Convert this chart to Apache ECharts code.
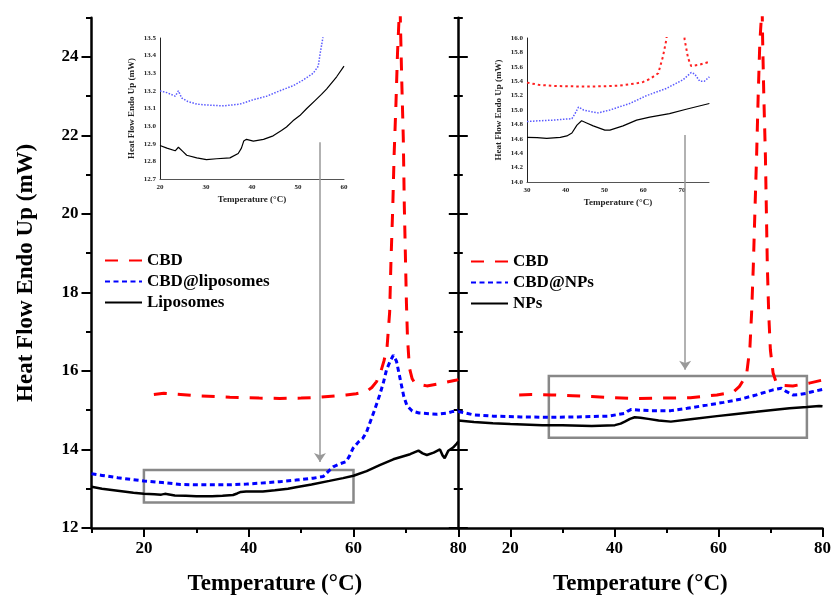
<!DOCTYPE html>
<html>
<head>
<meta charset="utf-8">
<script src="https://cdn.jsdelivr.net/npm/echarts@6/dist/echarts.min.js"></script>
<style>
  html, body { margin: 0; padding: 0; background: #fff; }
  #main { width: 834px; height: 601px; }
</style>
</head>
<body>
<div id="main"></div>
<script>
// tick labels
var xMajor = [20, 40, 60, 80];
var xMinor = [10, 30, 50, 70];
var yMajor = [12, 14, 16, 18, 20, 22, 24];
var yMinor = [13, 15, 17, 19, 21, 23, 25];
var insetRightX = [30, 40, 50, 60, 70];

// left panel (liposomes), [temperature, heat flow]
var cbdLeft = [[21.9,15.40],[23.8,15.43],[27,15.40],[30,15.37],[36.4,15.33],[42,15.31],[45.9,15.30],[50,15.31],[53.5,15.33],[58.6,15.39],[60.5,15.42],[62.4,15.47],[63.5,15.58],[64.4,15.73],[65.2,15.98],[65.8,16.25],[66.4,16.6],[66.9,17.5],[67.15,18.8],[67.5,20.2],[67.75,21.5],[68.1,22.8],[68.4,24.1],[68.7,25.0],[68.8,25.8],[69.0,24.6],[69.2,23.44],[69.5,21.95],[69.7,20.19],[69.9,18.97],[70.1,17.74],[70.3,16.86],[70.67,16.08],[71.2,15.8],[71.75,15.68],[74,15.62],[76.5,15.68],[79.7,15.77],[80,15.78]];
var cbdLipo = [[10,13.38],[12,13.34],[15,13.28],[20,13.2],[23.5,13.16],[27,13.11],[30,13.1],[33.2,13.1],[36,13.1],[39.6,13.12],[42,13.14],[45.9,13.18],[49,13.22],[52.3,13.27],[54.2,13.31],[55.1,13.43],[56.1,13.56],[57.5,13.64],[58.6,13.69],[59.3,13.85],[59.9,14.03],[61,14.2],[61.8,14.29],[62.5,14.45],[63.1,14.67],[64,15.0],[65,15.39],[65.7,15.7],[66.3,16.03],[67,16.25],[67.6,16.4],[68.2,16.25],[68.9,15.8],[69.6,15.35],[70.2,15.12],[71.2,14.98],[72.5,14.93],[74.7,14.91],[76,14.9],[78,14.93],[79,14.97],[80,15.0]];
var liposomes = [[10,13.05],[12,13.0],[15,12.95],[18,12.9],[20,12.87],[22,12.86],[23.3,12.85],[24,12.87],[25.9,12.83],[28,12.82],[30,12.81],[33,12.81],[35,12.82],[37,12.84],[37.8,12.88],[38.5,12.92],[39.5,12.93],[42.7,12.93],[45,12.96],[47.5,13.0],[49,13.04],[52,13.11],[55.4,13.2],[58,13.27],[60,13.33],[62.5,13.45],[65,13.6],[67.6,13.75],[70.8,13.88],[72.4,13.97],[73.2,13.9],[74,13.86],[75.3,13.92],[76.5,14.0],[77,13.85],[77.4,13.78],[78.1,13.97],[79,14.05],[79.7,14.15],[80,14.2]];

// right panel (NPs)
var cbdRight = [[21.7,15.39],[24,15.4],[28,15.39],[32,15.37],[35.6,15.35],[40,15.32],[44.5,15.3],[50,15.31],[54.6,15.32],[59.7,15.39],[61.5,15.43],[62.9,15.47],[64,15.6],[64.8,15.77],[65.4,15.9],[66.05,16.6],[66.37,17.47],[66.7,18.66],[67.0,20.02],[67.33,21.46],[67.65,23.07],[67.95,24.35],[68.2,24.9],[68.37,25.5],[68.5,24.4],[68.71,23.07],[69.03,21.46],[69.22,20.02],[69.4,18.66],[69.66,17.47],[69.98,16.54],[70.5,15.95],[71.0,15.75],[71.75,15.64],[74.3,15.62],[77.45,15.69],[80,15.77]];
var cbdNPs = [[10,14.97],[10.3,14.92],[13,14.88],[16.65,14.85],[22,14.83],[27.4,14.82],[33,14.83],[38.8,14.85],[42,14.92],[42.6,14.98],[43.25,15.02],[45,15.0],[47.05,14.99],[50.85,14.99],[54,15.05],[57.8,15.13],[61,15.2],[64.15,15.28],[67,15.38],[70.5,15.52],[72.1,15.56],[73,15.48],[74.3,15.39],[75.5,15.4],[76.8,15.43],[78,15.47],[80,15.53]];
var nps = [[10,14.74],[13,14.7],[16.65,14.67],[20,14.65],[26.15,14.62],[30,14.62],[35.65,14.6],[40.1,14.62],[41.2,14.66],[42,14.71],[43,14.78],[43.9,14.82],[45,14.81],[46.5,14.78],[48.5,14.74],[50.85,14.71],[54.65,14.77],[59.7,14.85],[63,14.9],[67.3,14.96],[70,15.0],[73.65,15.05],[77,15.08],[79.35,15.11],[80,15.1]];

// insets
var insetLipoBlue = [[20,13.2],[21.5,13.19],[23.3,13.17],[24,13.2],[24.7,13.16],[26,13.14],[28,13.125],[30,13.12],[33.8,13.115],[37.4,13.125],[40.3,13.15],[43.2,13.17],[46,13.2],[49,13.23],[51,13.26],[53.3,13.3],[54.4,13.34],[54.8,13.41],[55.4,13.5],[55.6,13.6]];
var insetLipoBlack = [[20,12.89],[21.5,12.875],[23.3,12.86],[24,12.88],[25,12.855],[25.8,12.835],[28,12.82],[30.1,12.81],[32.3,12.815],[35.2,12.82],[37,12.845],[37.7,12.875],[38.2,12.915],[38.8,12.925],[40.3,12.915],[42.5,12.925],[44.6,12.945],[46.4,12.975],[47.5,12.995],[48.9,13.03],[50.4,13.06],[51.9,13.1],[53.7,13.145],[55.1,13.18],[56.2,13.21],[58.4,13.28],[60,13.34]];
var insetNpRed = [[30,15.38],[33,15.35],[36.9,15.335],[40,15.33],[45.4,15.325],[50,15.33],[54,15.34],[58.3,15.37],[60,15.39],[61.7,15.43],[63.9,15.51],[65.1,15.74],[66,15.98],[66.4,16.2],[70.4,16.2],[70.7,15.98],[71.6,15.72],[72.4,15.61],[74.6,15.63],[77.1,15.67]];
var insetNpBlue = [[30,14.84],[33,14.85],[36.9,14.86],[41.6,14.88],[42.4,14.95],[43.3,15.04],[44.6,15.0],[46.3,14.98],[48.4,14.96],[51.4,15.0],[56.5,15.09],[60.9,15.2],[66,15.3],[70.3,15.42],[72.4,15.52],[73.3,15.5],[74.6,15.4],[75.8,15.4],[77.1,15.46]];
var insetNpBlack = [[30,14.62],[32.6,14.615],[35.1,14.605],[38.6,14.62],[40.3,14.64],[41.6,14.68],[42.9,14.79],[44.1,14.85],[45.4,14.82],[47.1,14.78],[50.1,14.72],[51.4,14.72],[54.8,14.78],[58.3,14.86],[61.7,14.9],[66.8,14.95],[71.1,15.01],[77.1,15.09]];

var serif = '"Liberation Serif", "DejaVu Serif", serif';

function lineSeries(name, data, xi, yi, color, width, dash) {
    return {
        name: name,
        type: 'line',
        xAxisIndex: xi,
        yAxisIndex: yi,
        data: data,
        symbol: 'none',
        clip: true,
        lineStyle: { color: color, width: width, type: dash || 'solid' },
        itemStyle: { color: color }
    };
}

// main x axes (major with labels, minor ticks only)
function mainX(grid, values, major) {
    return {
        type: 'value', gridIndex: grid, min: 10, max: 80, position: 'bottom',
        name: major ? 'Temperature (°C)' : '',
        nameLocation: 'middle', nameGap: 45,
        nameTextStyle: { fontFamily: serif, fontWeight: 'bold', fontSize: 23, color: '#000' },
        axisLine: { show: major, onZero: false, lineStyle: { color: '#000', width: 2.5 } },
        axisTick: { show: true, customValues: values, length: major ? 9 : 5, lineStyle: { color: '#000', width: 2 } },
        axisLabel: { show: major, customValues: values, margin: 12, fontFamily: serif, fontWeight: 'bold', fontSize: 17, color: '#000' },
        splitLine: { show: false }
    };
}
function mainY(grid, values, len, inside, withLine, withLabel) {
    return {
        type: 'value', gridIndex: grid, min: 12, max: 25, position: 'left',
        name: withLabel ? 'Heat Flow Endo Up (mW)' : '',
        nameLocation: 'middle', nameGap: 54,
        nameTextStyle: { fontFamily: serif, fontWeight: 'bold', fontSize: 23, color: '#000' },
        axisLine: { show: withLine, onZero: false, lineStyle: { color: '#000', width: 2.5 } },
        axisTick: { show: true, inside: inside, customValues: values, length: len, lineStyle: { color: '#000', width: 2 } },
        axisLabel: { show: withLabel, customValues: values, margin: 13, fontFamily: serif, fontWeight: 'bold', fontSize: 17, color: '#000' },
        splitLine: { show: false }
    };
}
function insetAxis(grid, min, max, extra, isX) {
    var a = {
        type: 'value', gridIndex: grid, min: min, max: max,
        position: isX ? 'bottom' : 'left',
        name: isX ? 'Temperature (°C)' : 'Heat Flow Endo Up (mW)',
        nameLocation: 'middle', nameGap: isX ? 16 : 24,
        nameTextStyle: { fontFamily: serif, fontWeight: 'bold', fontSize: 9, color: '#222' },
        axisLine: { onZero: false, lineStyle: { color: isX ? '#555' : '#222', width: 1 } },
        axisTick: { show: false },
        axisLabel: { margin: isX ? 5 : 4, fontFamily: serif, fontWeight: 'bold', fontSize: 7, color: '#222' },
        splitLine: { show: false }
    };
    for (var k in extra) a[k] = extra[k];
    return a;
}

var leftBlack = lineSeries('Liposomes', liposomes, 0, 0, '#000', 2.5);
leftBlack.markArea = {
    silent: true,
    itemStyle: { color: 'rgba(0,0,0,0)', borderColor: '#888', borderWidth: 2.5 },
    data: [[{ coord: [20, 12.65] }, { coord: [60, 13.48] }]]
};
leftBlack.markLine = {
    silent: true, symbol: ['none', 'arrow'], symbolSize: 9,
    label: { show: false },
    lineStyle: { color: '#999', width: 1.5, type: 'solid' },
    data: [[{ coord: [53.6, 21.83] }, { coord: [53.6, 13.68] }]]
};
var rightBlack = lineSeries('NPs', nps, 2, 2, '#000', 2.5);
rightBlack.markArea = {
    silent: true,
    itemStyle: { color: 'rgba(0,0,0,0)', borderColor: '#888', borderWidth: 2.5 },
    data: [[{ coord: [27.4, 14.3] }, { coord: [77, 15.87] }]]
};
rightBlack.markLine = {
    silent: true, symbol: ['none', 'arrow'], symbolSize: 9,
    label: { show: false },
    lineStyle: { color: '#999', width: 1.5, type: 'solid' },
    data: [[{ coord: [53.6, 22.01] }, { coord: [53.6, 16.03] }]]
};

var legendText = { fontFamily: serif, fontWeight: 'bold', fontSize: 17, color: '#000', lineHeight: 17 };

var option = {
    animation: false,
    backgroundColor: '#fff',
    grid: [
        { left: 91.5, right: 375.7, top: 17.7, bottom: 73 },
        { left: 458.3, right: 7.3, top: 17.7, bottom: 73 },
        { left: 160, right: 490, top: 38, bottom: 422 },
        { left: 527, right: 125, top: 38, bottom: 419 }
    ],
    legend: [
        { data: ['CBD', 'CBD@liposomes', 'Liposomes'], orient: 'vertical', left: 104, top: 252, padding: 0,
          itemWidth: 37, itemHeight: 14, itemGap: 4, selectedMode: false,
          itemStyle: { opacity: 0 }, textStyle: legendText },
        { data: ['CBD', 'CBD@NPs', 'NPs'], orient: 'vertical', left: 470, top: 253, padding: 0,
          itemWidth: 37, itemHeight: 14, itemGap: 4, selectedMode: false,
          itemStyle: { opacity: 0 }, textStyle: legendText }
    ],
    xAxis: [
        mainX(0, xMajor, true),
        mainX(0, xMinor, false),
        mainX(1, xMajor, true),
        mainX(1, xMinor, false),
        insetAxis(2, 20, 60, { interval: 10 }, true),
        insetAxis(3, 30, 77, { axisLabel: { customValues: insetRightX, margin: 5, fontFamily: serif, fontWeight: 'bold', fontSize: 7, color: '#222' } }, true)
    ],
    yAxis: [
        mainY(0, yMajor, 10, false, true, true),
        mainY(0, yMinor, 5.5, false, false, false),
        mainY(1, yMajor, 9.5, false, true, false),
        mainY(1, yMajor, 9.5, true, false, false),
        mainY(1, yMinor, 4.5, false, false, false),
        mainY(1, yMinor, 4.5, true, false, false),
        insetAxis(2, 12.7, 13.5, { interval: 0.1, axisLabel: { margin: 4, fontFamily: serif, fontWeight: 'bold', fontSize: 7, color: '#222', formatter: function (v) { return v.toFixed(1); } } }, false),
        insetAxis(3, 14, 16, { interval: 0.2, axisLabel: { margin: 4, fontFamily: serif, fontWeight: 'bold', fontSize: 7, color: '#222', formatter: function (v) { return v.toFixed(1); } } }, false)
    ],
    series: [
        lineSeries('CBD', cbdLeft, 0, 0, '#ff0000', 3, [13, 11]),
        lineSeries('CBD@liposomes', cbdLipo, 0, 0, '#0000ff', 3, [5, 3.5]),
        leftBlack,
        lineSeries('CBD', cbdRight, 2, 2, '#ff0000', 3, [13, 11]),
        lineSeries('CBD@NPs', cbdNPs, 2, 2, '#0000ff', 3, [5, 3.5]),
        rightBlack,
        lineSeries('inset lipo blue', insetLipoBlue, 4, 6, '#5a5aff', 1.5, [1.5, 1.5]),
        lineSeries('inset lipo black', insetLipoBlack, 4, 6, '#000', 1.2),
        lineSeries('inset np red', insetNpRed, 5, 7, '#ff2020', 2, [2.5, 3]),
        lineSeries('inset np blue', insetNpBlue, 5, 7, '#5a5aff', 1.5, [1.5, 1.5]),
        lineSeries('inset np black', insetNpBlack, 5, 7, '#000', 1.2)
    ]
};

var myChart = echarts.init(document.getElementById('main'));
myChart.setOption(option);
</script>
</body>
</html>
